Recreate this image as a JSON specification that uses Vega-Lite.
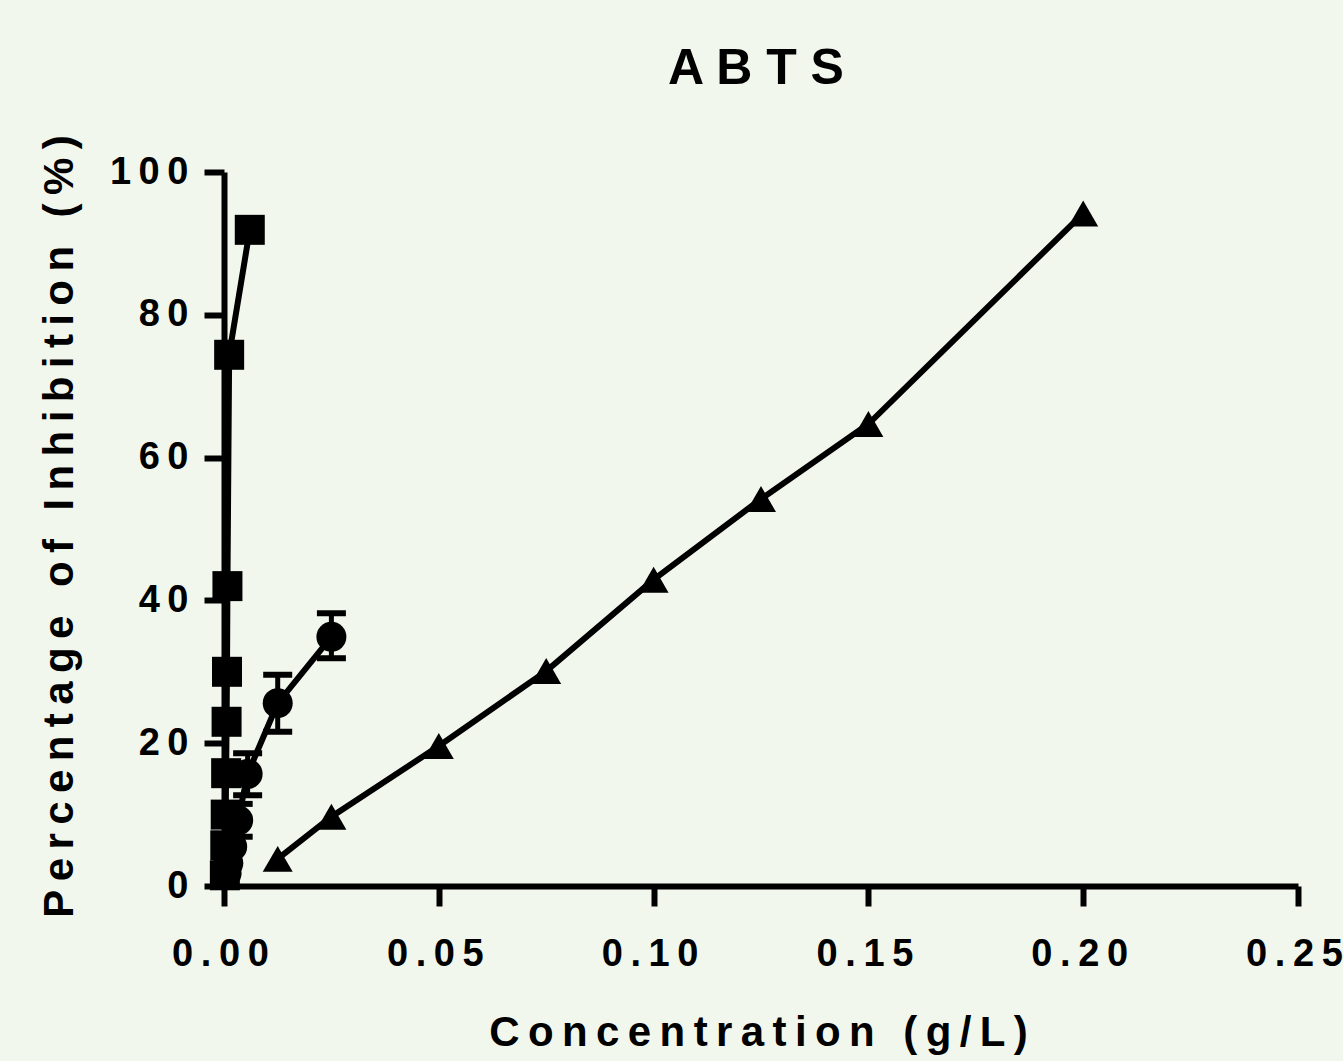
{
  "$schema": "https://vega.github.io/schema/vega-lite/v6.json",
  "width": 1074,
  "height": 714,
  "autosize": "none",
  "padding": {"left": 224, "top": 172, "right": 45, "bottom": 175},
  "background": "#f2f7ee",
  "title": {
    "text": "A B T S",
    "font": "Liberation Sans",
    "fontSize": 50,
    "fontWeight": "bold",
    "color": "black",
    "anchor": "middle",
    "frame": "group",
    "baseline": "alphabetic",
    "offset": 0,
    "dy": -1,
    "dx": -5
  },
  "data": {
    "values": [
      {"series": "A", "conc": 0.0002, "inhib": 1.5},
      {"series": "A", "conc": 0.0003, "inhib": 5.7},
      {"series": "A", "conc": 0.0004, "inhib": 10},
      {"series": "A", "conc": 0.0005, "inhib": 15.8},
      {"series": "A", "conc": 0.0006, "inhib": 23},
      {"series": "A", "conc": 0.0007, "inhib": 30},
      {"series": "A", "conc": 0.0008, "inhib": 42},
      {"series": "A", "conc": 0.0012, "inhib": 74.4},
      {"series": "A", "conc": 0.006, "inhib": 91.9},
      {"series": "B", "conc": 0.0006, "inhib": 1.8},
      {"series": "B", "conc": 0.001, "inhib": 3.2},
      {"series": "B", "conc": 0.0019, "inhib": 5.5},
      {"series": "B", "conc": 0.0033, "inhib": 9.2, "lo": 6.9, "hi": 11.5},
      {"series": "B", "conc": 0.0055, "inhib": 15.7, "lo": 12.7, "hi": 18.6},
      {"series": "B", "conc": 0.0125, "inhib": 25.6, "lo": 21.6, "hi": 29.6},
      {"series": "B", "conc": 0.025, "inhib": 34.9, "lo": 31.9, "hi": 38.2},
      {"series": "C", "conc": 0.0125, "inhib": 3.8},
      {"series": "C", "conc": 0.025, "inhib": 9.7},
      {"series": "C", "conc": 0.05, "inhib": 19.6},
      {"series": "C", "conc": 0.075, "inhib": 30.1},
      {"series": "C", "conc": 0.1, "inhib": 42.9},
      {"series": "C", "conc": 0.125, "inhib": 54.2},
      {"series": "C", "conc": 0.15, "inhib": 64.7},
      {"series": "C", "conc": 0.2, "inhib": 94.2}
    ]
  },
  "encoding": {
    "x": {
      "field": "conc",
      "type": "quantitative",
      "scale": {"domain": [0, 0.25], "nice": false, "zero": false},
      "axis": {
        "values": [0, 0.05, 0.1, 0.15, 0.2, 0.25],
        "format": ".2f",
        "labelExpr": "join(split(datum.label, ''), '\u2009')",
        "labelPadding": 29,
        "labelOffset": -4,
        "labelFlush": false,
        "labelOverlap": false,
        "title": "C\u2009o\u2009n\u2009c\u2009e\u2009n\u2009t\u2009r\u2009a\u2009t\u2009i\u2009o\u2009n\u2009 \u2009(\u2009g\u2009/\u2009L\u2009)",
        "titleBaseline": "alphabetic",
        "titleY": 159,
        "titleX": 534,
        "titleAlign": "center",
        "titleAnchor": null
      }
    },
    "y": {
      "field": "inhib",
      "type": "quantitative",
      "scale": {"domain": [0, 100], "nice": false, "zero": false},
      "axis": {
        "values": [0, 20, 40, 60, 80, 100],
        "labelExpr": "join(split(datum.label, ''), '\u2009')",
        "labelPadding": 16,
        "title": "P\u2009e\u2009r\u2009c\u2009e\u2009n\u2009t\u2009a\u2009g\u2009e\u2009 \u2009o\u2009f\u2009 \u2009I\u2009n\u2009h\u2009i\u2009b\u2009i\u2009t\u2009i\u2009o\u2009n\u2009 \u2009(\u2009%\u2009)",
        "titleAngle": -90,
        "titleBaseline": "alphabetic",
        "titleAlign": "center",
        "titleX": -152,
        "titleY": 354,
        "titleAnchor": null
      }
    }
  },
  "layer": [
    {
      "mark": {"type": "line", "color": "black", "strokeWidth": 6},
      "encoding": {"detail": {"field": "series"}, "order": {"field": "conc", "type": "quantitative"}}
    },
    {
      "transform": [{"filter": "isValid(datum.lo)"}],
      "mark": {"type": "rule", "color": "black", "strokeWidth": 5, "opacity": 1},
      "encoding": {
        "y": {"field": "lo", "type": "quantitative"},
        "y2": {"field": "hi"}
      }
    },
    {
      "transform": [{"filter": "isValid(datum.lo)"}, {"fold": ["lo", "hi"], "as": ["bound", "bval"]}],
      "mark": {"type": "tick", "orient": "horizontal", "color": "black", "size": 29, "thickness": 6, "opacity": 1},
      "encoding": {
        "y": {"field": "bval", "type": "quantitative"}
      }
    },
    {
      "mark": {"type": "point", "filled": true, "opacity": 1, "color": "black"},
      "encoding": {
        "shape": {
          "field": "series",
          "type": "nominal",
          "scale": {"domain": ["A", "B", "C"], "range": ["square", "circle", "triangle-up"]},
          "legend": null
        },
        "size": {
          "field": "series",
          "type": "nominal",
          "scale": {"domain": ["A", "B", "C"], "range": [900, 900, 1100]},
          "legend": null
        }
      }
    }
  ],
  "config": {
    "view": {"stroke": null},
    "axis": {
      "grid": false,
      "domainColor": "black",
      "domainWidth": 6,
      "tickColor": "black",
      "tickWidth": 6,
      "tickSize": 20,
      "labelFont": "Liberation Sans",
      "labelFontSize": 38,
      "labelFontWeight": "bold",
      "labelColor": "black",
      "titleFont": "Liberation Sans",
      "titleFontSize": 42,
      "titleFontWeight": "bold",
      "titleColor": "black"
    }
  }
}
